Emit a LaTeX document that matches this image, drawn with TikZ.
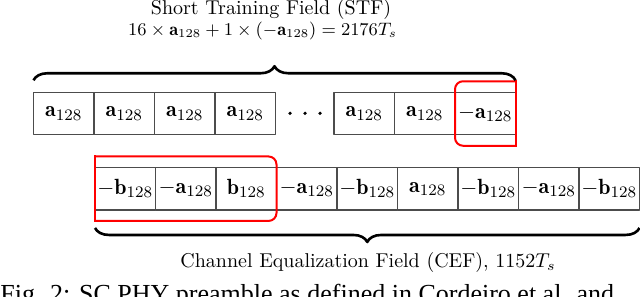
\documentclass[tikz,border=0pt]{standalone}
\usepackage{fontspec}
\newfontfamily\capfont{Liberation Serif}
\usetikzlibrary{positioning,decorations.pathreplacing}
\tikzset{
	cell/.style={draw=black!70, line width=.6pt, minimum width=30.25pt, minimum height=21.25pt, inner sep=0pt, outer sep=0pt, font=\fontsize{11}{13}\selectfont},
	redbox/.style={draw=red, line width=1pt, line cap=rect},
	bigbrace/.style={decorate, decoration={brace, amplitude=7pt}, line width=1.3pt}
}
\begin{document}
\begin{tikzpicture}[x=.5pt, y=.5pt, line join=round]
		\useasboundingbox (0,0) rectangle (640,296);
		% short training field
		\foreach \t [count=\i] in {\mathbf{a},\mathbf{a},\mathbf{a},\mathbf{a}}
		{\node[cell] (s\i) at ({3.25+60.5*\i},182.5) {$\t_{128}$};}
		\foreach \t/\i in {\mathbf{a}/5,\mathbf{a}/6,-\mathbf{a}/7}
		{\node[cell] (s\i) at ({61.75+60.5*\i},182.5) {$\t_{128}$};}
		\foreach \x in {290,305,320}
		{\fill (\x,182.7) circle (1.8);}
		% channel equalization field
		\foreach \t [count=\i] in {-\mathbf{b},-\mathbf{a},\mathbf{b},-\mathbf{a},-\mathbf{b},\mathbf{a},-\mathbf{b},-\mathbf{a},-\mathbf{b}}
		{\node[cell] (c\i) at ({64.75+60.5*\i},107.3) {$\t_{128}$};}
		% red frames
		\draw[redbox] ([yshift=5.5pt]s7.north east) [rounded corners=4pt] -- ([yshift=5.5pt]s7.north west)
			-- ([yshift=-5.5pt]s7.south west) -- ([yshift=-5.5pt]s7.south east);
		\draw[redbox] ([yshift=-5.5pt]s7.south east) -- ([yshift=5.5pt]s7.north east);
		\draw[redbox] ([yshift=5.5pt]c1.north west) [rounded corners=4pt] -- ([yshift=5.5pt]c3.north east)
			-- ([yshift=-5.5pt]c3.south east) -- ([yshift=-5.5pt]c1.south west);
		\draw[redbox] ([yshift=-5.5pt]c1.south west) -- ([yshift=5.5pt]c1.north west);
		% braces and labels
		\draw[bigbrace] ([yshift=6pt]s1.north west) -- ([yshift=6pt]s7.north east);
		\draw[bigbrace] ([yshift=-9pt]c9.south east) -- ([yshift=-9pt]c1.south west);
		\node[anchor=base] (stfname) at (271,282) {Short Training Field (STF)};
		\node[anchor=base, font=\fontsize{9.2}{11}\selectfont] (stflen) at (262.5,261) {$16\times\mathbf{a}_{128}+1\times(-\mathbf{a}_{128})=2176T_s$};
		\node[anchor=base] (cefname) at (368,29) {Channel Equalization Field (CEF), $1152T_s$};
		\node[anchor=base west, inner sep=0pt, font=\capfont\fontsize{13}{15}\selectfont] (caption) at (0,-6)
			{Fig. 2: SC PHY preamble as defined in Cordeiro et al. and};
\end{tikzpicture}
\end{document}
